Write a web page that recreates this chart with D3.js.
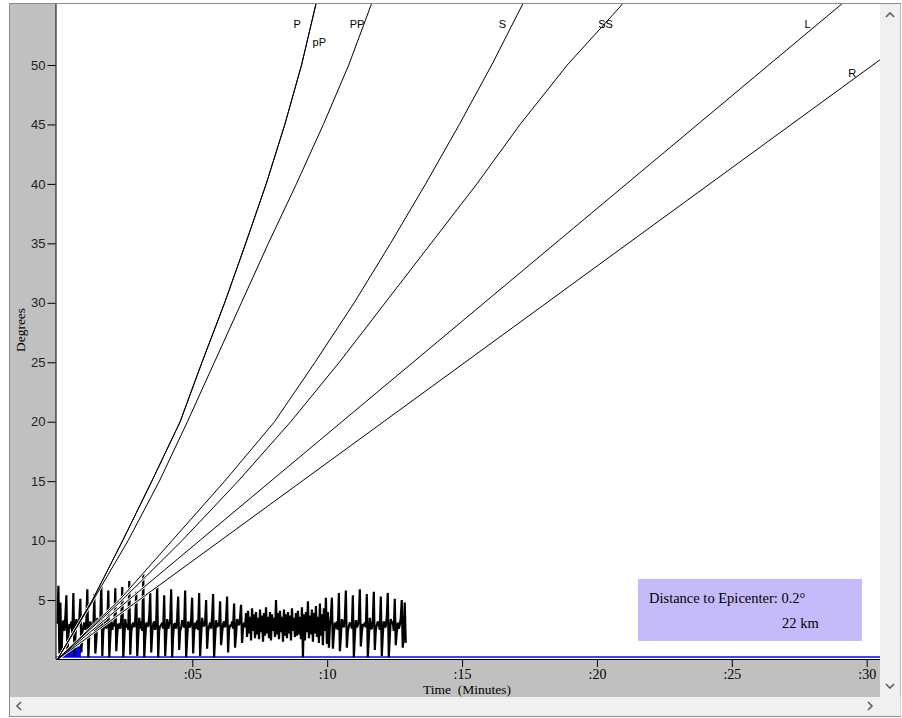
<!DOCTYPE html>
<html><head><meta charset="utf-8">
<script src="https://cdn.jsdelivr.net/npm/d3@7"></script>
<style>body{margin:0;background:#fff;} svg{display:block}</style>
</head><body>
<svg id="c" width="902" height="718"></svg>
<script>
// ---------- DATA ----------
const degreeStops = [0, 5, 10, 15, 20, 25, 30, 35, 40, 45, 50, 55, 57];
const timeP  = [0, 1.30, 2.42, 3.50, 4.55, 5.36, 6.20, 6.98, 7.74, 8.43, 9.05, 9.57, 9.78];
const timepP = [0, 1.30, 2.42, 3.50, 4.55, 5.36, 6.20, 6.98, 7.74, 8.43, 9.05, 9.57, 9.78];
const timePP = [0, 1.33, 2.62, 3.78, 4.82, 5.82, 6.82, 7.82, 8.86, 9.86, 10.80, 11.62, 11.95];
const timeS  = [0, 2.30, 4.25, 6.20, 8.05, 9.55, 11.00, 12.35, 13.65, 14.90, 16.10, 17.22, 17.65];
const timeSS = [0, 2.40, 4.62, 6.70, 8.65, 10.45, 12.15, 13.85, 15.55, 17.15, 18.90, 20.90, 21.60];
const surfaceDeg = [0, 57];
const timeL = [0, 30.06];
const timeR = [0, 34.46];
const phaseNames = ["P", "pP", "PP", "S", "SS", "L", "R"];
const labelTimes   = [8.89, 9.71, 11.11, 16.50, 20.32, 27.81, 29.46];
const labelDegrees = [53.1, 51.6, 53.1, 53.1, 53.1, 53.1, 49.0];

const xTicks = [5, 10, 15, 20, 25, 30];
const yTicks = [5, 10, 15, 20, 25, 30, 35, 40, 45, 50];

const epicenterDeg = 0.2;
const epicenterKm = 22;
const markerTimes = [0, 0.87, 0.87];
const markerDegs  = [0.2, 0.2, 1.2];

const waveStep = 0.037; // minutes per sample
const waveA = [
 3.0,6.2,0.5,4.8,0.2,2.6,3.3, 2.4,3.6,5.4,0.4,2.0,3.0,2.6, 3.2,2.2,5.6,0.3,1.8,3.4,2.7,
 2.9,3.5,5.1,0.6,2.3,2.8,3.1, 2.5,3.3,5.9,0.2,2.1,3.2,2.6, 3.0,2.6,5.5,0.5,1.6,3.5,2.8,
 2.7,3.4,6.4,0.3,2.4,2.9,3.2, 2.6,3.1,5.8,0.2,1.9,3.3,2.5, 3.1,2.8,6.0,0.7,2.2,3.0,2.9,
 2.6,3.5,6.1,0.2,1.7,3.4,2.7, 3.0,2.5,6.6,0.4,2.3,2.9,3.1, 2.7,3.3,5.7,0.3,2.0,3.5,2.6,
 3.2,2.4,7.2,0.2,1.8,3.1,2.8, 2.8,3.6,5.6,0.6,2.2,3.0,3.2, 2.5,3.2,6.2,0.2,2.5,2.8,2.9,
 3.1,2.6,5.4,0.3,1.9,3.4,2.6, 2.9,3.3,5.9,0.2,2.1,3.0,3.0, 2.6,3.5,5.3,0.8,2.4,2.7,3.3,
 3.0,2.7,5.8,0.2,1.7,3.2,2.8, 2.7,3.4,5.2,0.5,2.3,3.1,2.6, 3.3,2.5,5.6,0.3,2.0,3.5,2.9,
 2.8,3.2,5.0,0.9,2.4,2.8,3.1, 2.6,3.6,5.5,0.2,1.8,3.3,2.7, 3.1,2.8,4.9,1.2,2.2,3.0,3.2,
 2.7,3.4,5.3,0.6,2.5,2.9,2.8, 3.2,2.6,4.7,1.0,2.1,3.4,3.0, 2.9,3.5,4.6,1.4,2.6,3.1,2.7
];
const waveB = [
 3.9,1.9,4.1,2.2,3.6,1.6,4.3,2.4,3.8,1.8,4.0,2.1,3.5,1.7,
 4.2,2.3,3.7,1.5,3.9,2.0,4.4,2.2,3.6,1.8,4.0,1.6,3.8,2.4,
 3.5,1.9,5.0,2.1,3.9,1.7,4.1,2.3,3.6,1.5,4.2,2.0,3.8,1.8,
 4.0,2.2,3.7,1.6,4.3,2.4,3.5,1.9,3.9,2.0,4.1,2.1,3.6,1.7,
 4.4,0.2,3.8,1.6,4.0,2.3,4.9,1.8,3.7,2.1,4.2,1.5,3.9,2.2,
 4.5,1.9,3.6,1.4,4.7,2.0,3.8,1.2,4.3,2.4,5.2,1.3,4.0,1.0
];
const waveC = [
 2.8,3.6,5.2,0.9,2.2,3.1,2.6, 3.2,2.5,5.6,0.7,1.9,3.4,2.9, 2.7,3.5,5.8,1.0,2.4,2.8,3.1,
 3.0,2.6,5.4,0.2,2.0,3.3,2.7, 2.9,3.4,5.9,1.1,2.3,3.0,2.8, 3.1,2.7,5.5,0.2,1.8,3.5,2.6,
 2.6,3.3,5.7,0.8,2.5,2.9,3.2, 3.0,2.5,5.3,0.3,2.1,3.2,2.7, 2.8,3.6,5.6,0.2,1.9,3.4,3.0,
 3.2,2.4,5.1,1.2,2.3,3.1,2.6, 2.9,3.5,5.0,1.0,2.0,4.8,1.4
];

// ---------- LAYOUT ----------
const svg = d3.select("#c");
const serif = "'Liberation Serif','Times New Roman',serif";
const sans = "'Liberation Sans',Arial,sans-serif";
const plotL = 56, plotR = 880, plotT = 4, plotB = 659;

const x = d3.scaleLinear().domain([0, 30]).range([57.4, 866.7]);
const y = d3.scaleLinear().domain([0, 50]).range([659.5, 65]);

// frame
svg.append("rect").attr("x", 9.5).attr("y", 3.5).attr("width", 891).attr("height", 713)
  .attr("fill", "#c0c0c0").attr("stroke", "#8c8c8c");
svg.append("rect").attr("x", plotL).attr("y", plotT).attr("width", plotR - plotL).attr("height", plotB - plotT)
  .attr("fill", "#fff");
// scrollbars
svg.append("rect").attr("x", 880).attr("y", 4).attr("width", 20.5).attr("height", 712).attr("fill", "#f0f0f0");
svg.append("rect").attr("x", 10).attr("y", 697).attr("width", 890.5).attr("height", 19).attr("fill", "#f0f0f0");
const chev = (pts) => svg.append("polyline").attr("points", pts.map(p => p.join(",")).join(" "))
  .attr("fill", "none").attr("stroke", "#606060").attr("stroke-width", 1.6);
chev([[886, 17], [890, 13], [894, 17]]);
chev([[886, 684], [890, 688], [894, 684]]);
chev([[21, 702], [17, 706], [21, 710]]);
chev([[868, 702], [872, 706], [868, 710]]);

// clip
svg.append("clipPath").attr("id", "clip").append("rect")
  .attr("x", plotL + 0.5).attr("y", plotT).attr("width", plotR - plotL - 0.5).attr("height", plotB - plotT);
const g = svg.append("g").attr("clip-path", "url(#clip)");

// epicenter line + marker
g.append("line").attr("x1", plotL).attr("x2", plotR).attr("y1", y(epicenterDeg)).attr("y2", y(epicenterDeg))
  .attr("stroke", "#0000ff").attr("stroke-width", 1.5);
g.append("path").attr("d", d3.line()(markerTimes.map((t, i) => [x(t), y(markerDegs[i])])) + "Z")
  .attr("fill", "#0000ff");

// waveform
const wave = waveA.concat(waveB, waveC);
g.append("path").datum(wave)
  .attr("d", d3.line().x((d, i) => x(i * waveStep)).y(d => y(d)))
  .attr("fill", "none").attr("stroke", "#000").attr("stroke-width", 2.2).attr("stroke-linejoin", "bevel");

// travel-time curves
const curves = [
  [degreeStops, timeP], [degreeStops, timepP], [degreeStops, timePP],
  [degreeStops, timeS], [degreeStops, timeSS], [surfaceDeg, timeL], [surfaceDeg, timeR]
];
const lineGen = d3.line().x(d => x(d[1])).y(d => y(d[0]));
curves.forEach(([degs, times]) => {
  const pts = degs.map((d, i) => [d, times[i]]);
  g.append("path").attr("d", lineGen(pts)).attr("fill", "none").attr("stroke", "#fff").attr("stroke-width", 2.4);
});
curves.forEach(([degs, times]) => {
  const pts = degs.map((d, i) => [d, times[i]]);
  g.append("path").attr("d", lineGen(pts)).attr("fill", "none").attr("stroke", "#000").attr("stroke-width", 1);
});
// labels
phaseNames.forEach((n, i) => {
  g.append("text").attr("x", x(labelTimes[i])).attr("y", y(labelDegrees[i]))
    .attr("text-anchor", "middle").attr("font-family", sans).attr("font-size", 11).text(n);
});

// info box
svg.append("rect").attr("x", 638).attr("y", 579).attr("width", 224).attr("height", 62).attr("fill", "#c5bbfb");
svg.append("text").attr("x", 649).attr("y", 603).attr("font-family", serif).attr("font-size", 14.5)
  .text("Distance to Epicenter: " + epicenterDeg + "°");
svg.append("text").attr("x", 782).attr("y", 628).attr("font-family", serif).attr("font-size", 14.5)
  .text(epicenterKm + " km");

// axes lines
svg.append("line").attr("x1", plotL).attr("x2", plotL).attr("y1", plotT).attr("y2", plotB)
  .attr("stroke", "#000").attr("stroke-width", 1);
svg.append("line").attr("x1", plotL).attr("x2", plotR).attr("y1", plotB + 0.5).attr("y2", plotB + 0.5)
  .attr("stroke", "#000").attr("stroke-width", 1);

const xAxis = svg.append("g").attr("transform", `translate(0,${plotB})`)
  .call(d3.axisBottom(x).tickValues(xTicks).tickFormat(d => ":" + d3.format("02")(d)).tickSize(8).tickPadding(2));
xAxis.select(".domain").remove();
xAxis.selectAll("text").attr("font-family", serif).attr("font-size", 14).attr("fill", "#000");

const yAxis = svg.append("g").attr("transform", `translate(${plotL - 0.5},0)`)
  .call(d3.axisLeft(y).tickValues(yTicks).tickSize(8).tickPadding(2));
yAxis.select(".domain").remove();
yAxis.selectAll("text").attr("font-family", sans).attr("font-size", 13).attr("fill", "#222");

// axis titles
svg.append("text").attr("x", 467).attr("y", 694).attr("text-anchor", "middle")
  .attr("font-family", serif).attr("font-size", 13.5).style("white-space", "pre").text("Time  (Minutes)");
svg.append("text").attr("transform", "translate(25,330) rotate(-90)").attr("text-anchor", "middle")
  .attr("font-family", serif).attr("font-size", 13.5).text("Degrees");
</script>
</body></html>
